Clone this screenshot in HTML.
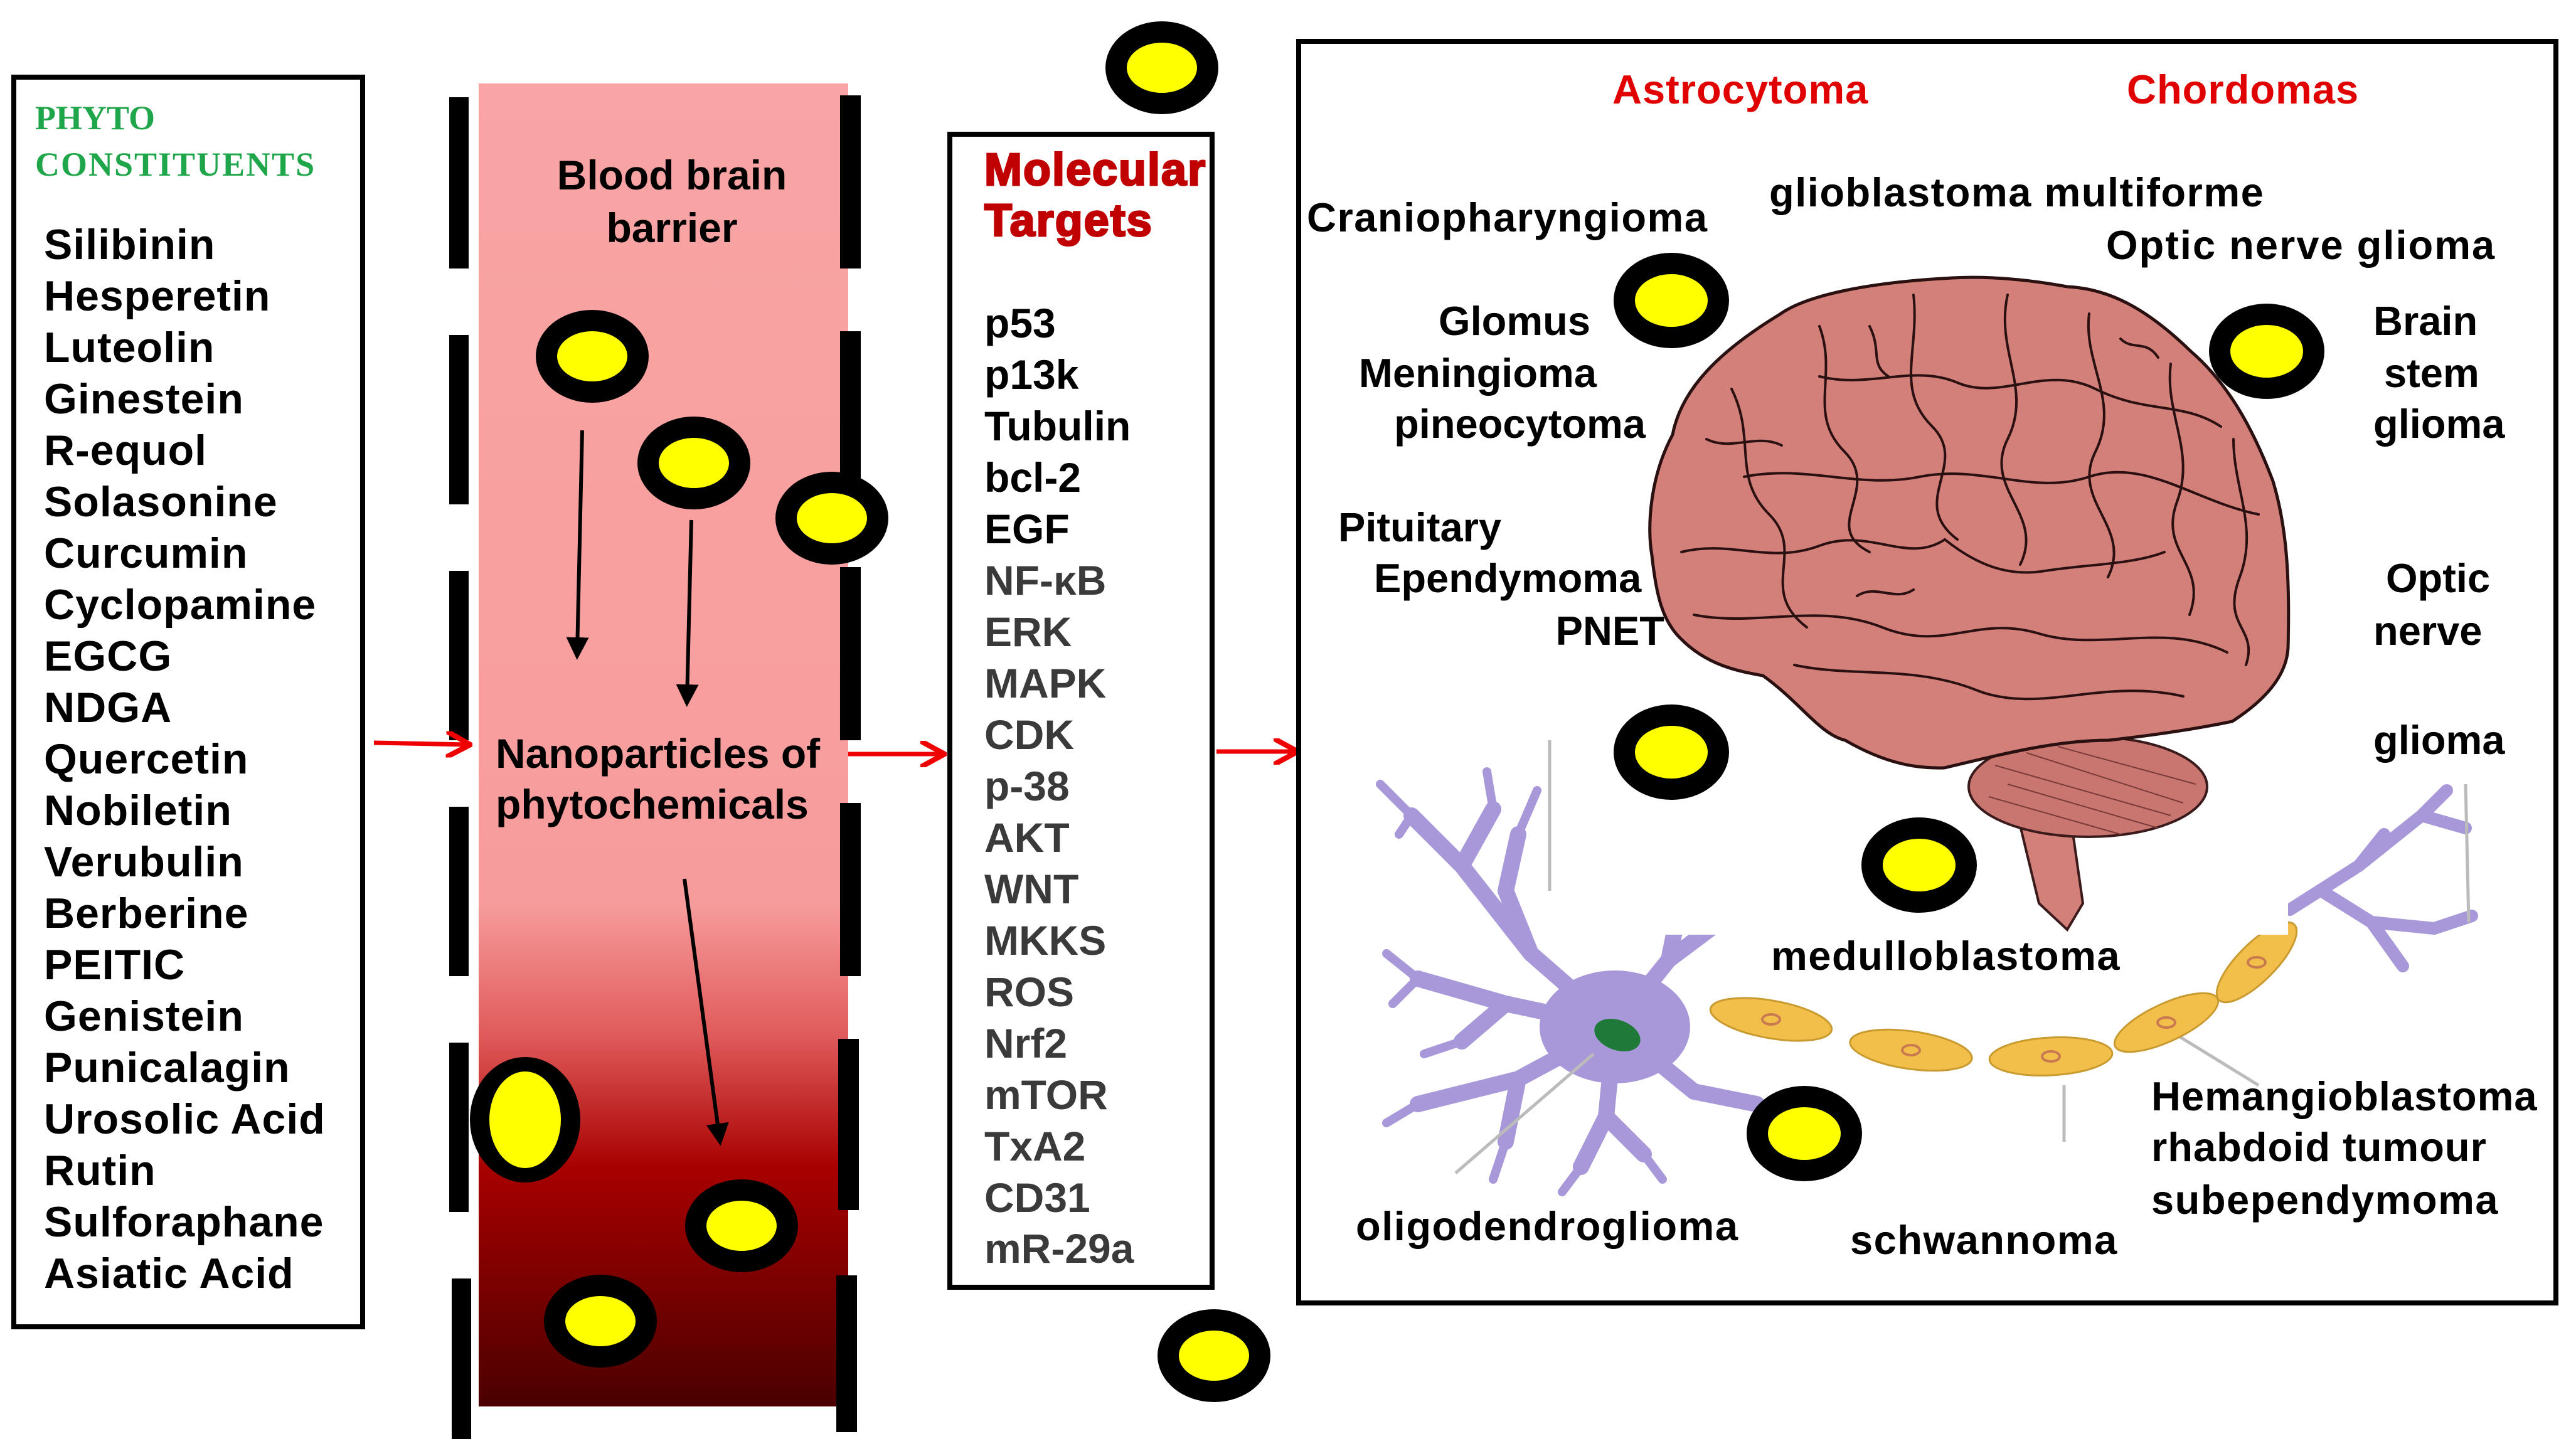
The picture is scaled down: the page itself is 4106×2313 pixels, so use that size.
<!DOCTYPE html>
<html><head><meta charset="utf-8"><style>
html,body{margin:0;padding:0;background:#fff;}
svg{display:block;}
text{font-family:"Liberation Sans",Arial,sans-serif;font-weight:bold;}
</style></head><body>
<svg width="4106" height="2313" viewBox="0 0 4106 2313" xmlns="http://www.w3.org/2000/svg">
<defs>
<linearGradient id="vg" x1="0" y1="0" x2="0" y2="1">
<stop offset="0" stop-color="#f9a5a5"/>
<stop offset="0.62" stop-color="#f79c9c"/>
<stop offset="0.72" stop-color="#e05a5a"/>
<stop offset="0.82" stop-color="#a80000"/>
<stop offset="1" stop-color="#4a0000"/>
</linearGradient>
<marker id="ab" markerWidth="6" markerHeight="6" refX="4" refY="3" orient="auto" markerUnits="strokeWidth"><path d="M0,0 L6,3 L0,6 z" fill="#000"/></marker>
<marker id="ar" markerWidth="6" markerHeight="6" refX="5" refY="3" orient="auto" markerUnits="strokeWidth"><path d="M0,0 L5.5,3 L0,6" fill="none" stroke="#e00" stroke-width="1.2"/></marker>
</defs>

<!-- Left box -->
<rect x="22" y="123" width="556" height="1992" fill="#fff" stroke="#000" stroke-width="8"/>
<text x="56" y="206" font-size="54" fill="#1fa64a" style="font-family:'Liberation Serif',serif">PHYTO</text>
<text x="56" y="280" font-size="54" fill="#1fa64a" style="font-family:'Liberation Serif',serif" letter-spacing="2">CONSTITUENTS</text>
<g font-size="68" fill="#000" letter-spacing="1">
<text x="70" y="413">Silibinin</text>
<text x="70" y="495">Hesperetin</text>
<text x="70" y="577">Luteolin</text>
<text x="70" y="659">Ginestein</text>
<text x="70" y="741">R-equol</text>
<text x="70" y="823">Solasonine</text>
<text x="70" y="905">Curcumin</text>
<text x="70" y="987">Cyclopamine</text>
<text x="70" y="1069">EGCG</text>
<text x="70" y="1151">NDGA</text>
<text x="70" y="1233">Quercetin</text>
<text x="70" y="1315">Nobiletin</text>
<text x="70" y="1397">Verubulin</text>
<text x="70" y="1479">Berberine</text>
<text x="70" y="1561">PEITIC</text>
<text x="70" y="1643">Genistein</text>
<text x="70" y="1725">Punicalagin</text>
<text x="70" y="1807">Urosolic Acid</text>
<text x="70" y="1889">Rutin</text>
<text x="70" y="1971">Sulforaphane</text>
<text x="70" y="2053">Asiatic Acid</text>
</g>

<!-- vessel -->
<rect x="763" y="133" width="589" height="2109" fill="url(#vg)"/>
<g fill="#000">
<rect x="716" y="155" width="31" height="273"/><rect x="716" y="534" width="31" height="270"/>
<rect x="716" y="910" width="31" height="270"/><rect x="716" y="1286" width="31" height="270"/>
<rect x="716" y="1662" width="31" height="270"/><rect x="720" y="2038" width="31" height="256"/>
<rect x="1339" y="152" width="33" height="276"/><rect x="1339" y="528" width="33" height="276"/>
<rect x="1339" y="904" width="33" height="276"/><rect x="1339" y="1280" width="33" height="276"/>
<rect x="1336" y="1656" width="33" height="273"/><rect x="1333" y="2033" width="33" height="250"/>
</g>
<g font-size="66" fill="#000" text-anchor="middle">
<text x="1071" y="302">Blood brain</text>
<text x="1071" y="386">barrier</text>
</g>
<g font-size="66" fill="#000">
<text x="790" y="1224">Nanoparticles of</text>
<text x="790" y="1305">phytochemicals</text>
</g>
<g stroke="#000" stroke-width="6" fill="none">
<line x1="928" y1="686" x2="920" y2="1040" marker-end="url(#ab)"/>
<line x1="1102" y1="829" x2="1095" y2="1115" marker-end="url(#ab)"/>
<line x1="1091" y1="1401" x2="1147" y2="1815" marker-end="url(#ab)"/>
</g>
<g stroke="#e00" stroke-width="7" fill="none">
<line x1="596" y1="1184" x2="746" y2="1187" marker-end="url(#ar)"/>
<line x1="1352" y1="1202" x2="1502" y2="1202" marker-end="url(#ar)"/>
<line x1="1939" y1="1198" x2="2065" y2="1198" marker-end="url(#ar)"/>
</g>

<!-- Molecular targets -->
<rect x="1514" y="214" width="418" height="1838" fill="#fff" stroke="#000" stroke-width="8"/>
<svg x="1514" y="214" width="414" height="300" overflow="hidden">
<text x="55" y="81" font-size="72" fill="#c00000" stroke="#c00000" stroke-width="3" letter-spacing="2">Molecular</text>
<text x="55" y="162" font-size="72" fill="#c00000" stroke="#c00000" stroke-width="3" letter-spacing="2">Targets</text>
</svg>
<g font-size="66" fill="#000">
<text x="1569" y="538">p53</text><text x="1569" y="620">p13k</text><text x="1569" y="702">Tubulin</text>
<text x="1569" y="784">bcl-2</text><text x="1569" y="866">EGF</text>
</g>
<g font-size="66" fill="#3a3a3a">
<text x="1569" y="948">NF-κB</text><text x="1569" y="1030">ERK</text><text x="1569" y="1112">MAPK</text>
<text x="1569" y="1194">CDK</text><text x="1569" y="1276">p-38</text><text x="1569" y="1358">AKT</text>
<text x="1569" y="1440">WNT</text><text x="1569" y="1522">MKKS</text><text x="1569" y="1604">ROS</text>
<text x="1569" y="1686">Nrf2</text><text x="1569" y="1768">mTOR</text><text x="1569" y="1850">TxA2</text>
<text x="1569" y="1932">CD31</text><text x="1569" y="2013">mR-29a</text>
</g>

<!-- Right box -->
<rect x="2070" y="66" width="2004" height="2011" fill="#fff" stroke="#000" stroke-width="8"/>

<!-- neuron -->
<g stroke="#a898da" stroke-linecap="round" stroke-linejoin="round" fill="none">
<path d="M2574,1637 L2440,1520 L2330,1380 L2250,1300 M2330,1380 L2380,1290 M2440,1520 L2400,1420 L2420,1330 M2574,1637 L2400,1600 L2260,1560 M2400,1600 L2330,1660 M2574,1637 L2420,1720 L2260,1760 M2420,1720 L2400,1820 M2574,1637 L2560,1780 L2520,1860 M2560,1780 L2620,1840 M2574,1637 L2660,1530 L2680,1430 M2660,1530 L2740,1470 M2574,1637 L2700,1740 L2800,1760" stroke-width="26"/>
<path d="M2250,1300 L2200,1250 M2250,1300 L2230,1330 M2380,1290 L2370,1230 M2420,1330 L2450,1260 M2260,1560 L2210,1520 M2260,1560 L2220,1600 M2260,1760 L2210,1790 M2400,1820 L2380,1880 M2520,1860 L2490,1900 M2620,1840 L2650,1880 M2680,1430 L2660,1370 M2740,1470 L2780,1430 M2330,1660 L2270,1680" stroke-width="14"/>
<path d="M3650,1450 L3760,1380 L3860,1300 M3760,1380 L3800,1330 M3700,1420 L3780,1470 L3880,1480 M3780,1470 L3830,1540 M3860,1300 L3900,1260 M3860,1300 L3930,1320 M3880,1480 L3940,1460" stroke-width="20"/>
</g>
<ellipse cx="2574" cy="1637" rx="120" ry="90" fill="#a898da"/>
<ellipse cx="2578" cy="1650" rx="38" ry="24" fill="#1f7a3a" transform="rotate(20 2578 1650)"/>
<g stroke="#bbb" stroke-width="5">
<line x1="2470" y1="1180" x2="2470" y2="1420"/><line x1="2540" y1="1680" x2="2320" y2="1870"/>
<line x1="3290" y1="1730" x2="3290" y2="1820"/><line x1="3470" y1="1650" x2="3600" y2="1730"/>
<line x1="3930" y1="1250" x2="3935" y2="1470"/>
</g>
<g fill="#f2c04a" stroke="#c99a30" stroke-width="3">
<ellipse cx="2823" cy="1625" rx="98" ry="30" transform="rotate(10 2823 1625)"/>
<ellipse cx="3046" cy="1674" rx="98" ry="30" transform="rotate(8 3046 1674)"/>
<ellipse cx="3269" cy="1684" rx="98" ry="30" transform="rotate(-3 3269 1684)"/>
<ellipse cx="3453" cy="1630" rx="90" ry="30" transform="rotate(-25 3453 1630)"/>
<ellipse cx="3597" cy="1534" rx="85" ry="30" transform="rotate(-45 3597 1534)"/>
</g>
<g fill="none" stroke="#c97a50" stroke-width="4">
<ellipse cx="2823" cy="1625" rx="14" ry="8"/><ellipse cx="3046" cy="1674" rx="14" ry="8"/>
<ellipse cx="3269" cy="1684" rx="14" ry="8"/><ellipse cx="3453" cy="1630" rx="14" ry="8"/>
<ellipse cx="3597" cy="1534" rx="14" ry="8"/>
</g>
<rect x="2633" y="440" width="1014" height="1050" fill="#fff"/>
<!-- brain -->
<path d="M3204,1250 L3250,1440 L3295,1482 L3320,1440 L3300,1300 Z" fill="#d4807a" stroke="#3a1a1a" stroke-width="4"/>
<ellipse cx="3328" cy="1254" rx="190" ry="80" fill="#c97570" stroke="#3a1a1a" stroke-width="4"/>
<g stroke="#7a3a3a" stroke-width="2" fill="none">
<path d="M3180,1220 L3460,1300 M3200,1250 L3440,1320 M3230,1200 L3480,1280 M3280,1190 L3500,1250 M3170,1270 L3380,1330"/>
</g>
<path d="M3112,443 C2980,450 2880,470 2837,501 C2740,560 2680,620 2666,693 C2630,760 2625,840 2633,885 C2640,950 2650,990 2679,1018 C2720,1060 2770,1070 2810,1077 C2870,1120 2900,1170 2941,1180 C3010,1220 3060,1225 3099,1224 C3200,1200 3280,1180 3361,1180 C3450,1170 3510,1160 3558,1150 C3620,1110 3645,1070 3647,1033 C3650,920 3645,840 3623,767 C3590,680 3550,610 3492,560 C3420,490 3360,460 3295,457 C3230,445 3170,440 3112,443 Z" fill="#d4807a" stroke="#2a1010" stroke-width="5"/>
<g stroke="#2a1010" stroke-width="4" fill="none" stroke-linecap="round">
<path d="M2760,620 C2800,700 2760,760 2820,820 S2800,940 2880,1000"/>
<path d="M2900,520 C2930,600 2880,660 2940,720 S2900,840 2980,880"/>
<path d="M3050,470 C3060,560 3020,620 3080,680 S3040,800 3120,860"/>
<path d="M3200,470 C3180,560 3240,620 3200,700 S3260,820 3220,900"/>
<path d="M3330,500 C3320,580 3380,640 3340,720 S3400,840 3360,920"/>
<path d="M3460,580 C3450,660 3500,720 3470,800 S3520,900 3490,980"/>
<path d="M3560,700 C3560,780 3600,840 3570,920 S3600,1000 3580,1060"/>
<path d="M2680,880 C2760,860 2820,900 2900,870 S3040,900 3100,860"/>
<path d="M2700,980 C2800,1000 2900,960 3000,1000 S3150,980 3250,1010 S3450,990 3550,1040"/>
<path d="M2860,1060 C2950,1080 3050,1060 3150,1100 S3350,1080 3480,1110"/>
<path d="M2900,600 C2980,620 3050,580 3120,610 S3260,580 3340,620 S3480,640 3540,680"/>
<path d="M2780,760 C2880,740 2960,780 3060,760 S3240,790 3330,760 S3500,800 3600,820"/>
<path d="M3100,860 C3150,900 3200,920 3260,910 S3400,900 3450,880"/>
<path d="M2720,700 C2760,720 2800,690 2840,710 M2980,520 C3000,560 2980,580 3010,600 M3380,540 C3400,560 3420,540 3440,570 M2960,950 C2990,930 3020,960 3050,940"/>
</g>

<!-- nanoparticles -->
<g fill="#000">
<ellipse cx="1852" cy="108" rx="90" ry="74"/><ellipse cx="944" cy="568" rx="90" ry="74"/>
<ellipse cx="1106" cy="738" rx="90" ry="74"/><ellipse cx="1326" cy="826" rx="90" ry="74"/>
<ellipse cx="837" cy="1785" rx="88" ry="100"/><ellipse cx="1182" cy="1954" rx="90" ry="74"/>
<ellipse cx="957" cy="2106" rx="90" ry="74"/><ellipse cx="1935" cy="2161" rx="90" ry="74"/>
<ellipse cx="2664" cy="479" rx="92" ry="76"/><ellipse cx="3613" cy="560" rx="92" ry="76"/>
<ellipse cx="2664" cy="1199" rx="92" ry="76"/><ellipse cx="3059" cy="1379" rx="92" ry="76"/>
<ellipse cx="2876" cy="1807" rx="92" ry="76"/>
</g>
<g fill="#ffff00">
<ellipse cx="1852" cy="108" rx="56" ry="40"/><ellipse cx="944" cy="568" rx="56" ry="40"/>
<ellipse cx="1106" cy="738" rx="56" ry="40"/><ellipse cx="1326" cy="826" rx="56" ry="40"/>
<ellipse cx="837" cy="1785" rx="57" ry="77"/><ellipse cx="1182" cy="1954" rx="56" ry="40"/>
<ellipse cx="957" cy="2106" rx="56" ry="40"/><ellipse cx="1935" cy="2161" rx="56" ry="40"/>
<ellipse cx="2664" cy="479" rx="58" ry="42"/><ellipse cx="3613" cy="560" rx="58" ry="42"/>
<ellipse cx="2664" cy="1199" rx="58" ry="42"/><ellipse cx="3059" cy="1379" rx="58" ry="42"/>
<ellipse cx="2876" cy="1807" rx="58" ry="42"/>
</g>

<!-- right box labels -->
<g font-size="65" fill="#e00000" letter-spacing="1">
<text x="2570" y="165">Astrocytoma</text>
<text x="3390" y="165">Chordomas</text>
</g>
<g font-size="65" fill="#000">
<text x="2083" y="369" letter-spacing="1.5">Craniopharyngioma</text>
<text x="2820" y="329" letter-spacing="1.5">glioblastoma  multiforme</text>
<text x="3357" y="413" letter-spacing="2">Optic nerve glioma</text>
<text x="2535" y="534" text-anchor="end">Glomus</text>
<text x="2545" y="617" text-anchor="end">Meningioma</text>
<text x="2623" y="698" text-anchor="end">pineocytoma</text>
<text x="3783" y="534">Brain</text>
<text x="3800" y="617">stem</text>
<text x="3783" y="698">glioma</text>
<text x="2133" y="863">Pituitary</text>
<text x="2190" y="944">Ependymoma</text>
<text x="2653" y="1028" text-anchor="end">PNET</text>
<text x="3803" y="944">Optic</text>
<text x="3783" y="1028">nerve</text>
<text x="3783" y="1202">glioma</text>
<text x="2823" y="1546" letter-spacing="1.5">medulloblastoma</text>
<text x="3429" y="1770" letter-spacing="1">Hemangioblastoma</text>
<text x="3429" y="1851" letter-spacing="1">rhabdoid tumour</text>
<text x="3429" y="1935" letter-spacing="1.5">subependymoma</text>
<text x="2161" y="1977" letter-spacing="1.5">oligodendroglioma</text>
<text x="2949" y="1999" letter-spacing="1.5">schwannoma</text>
</g>
</svg>
</body></html>
